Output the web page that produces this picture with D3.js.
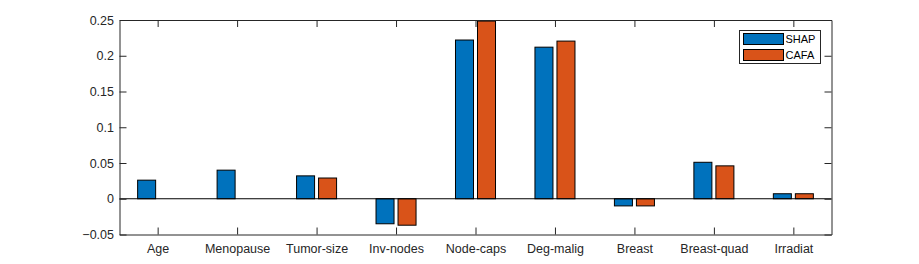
<!DOCTYPE html>
<html><head><meta charset="utf-8">
<script src="https://cdn.jsdelivr.net/npm/d3@7"></script>
<style>body{margin:0;background:#fff;}svg{display:block;font-family:"Liberation Sans",Arial,sans-serif;}</style>
</head><body><svg id="c" width="919" height="264"></svg>
<script>
const categories = ["Age","Menopause","Tumor-size","Inv-nodes","Node-caps","Deg-malig","Breast","Breast-quad","Irradiat"];
const seriesNames = ["SHAP","CAFA"];
const shapValues = [0.026, 0.040, 0.032, -0.035, 0.222, 0.212, -0.010, 0.051, 0.007];
const cafaValues = [0.000, 0.000, 0.029, -0.037, 0.2485, 0.2205, -0.010, 0.046, 0.007];
const yTicks = [-0.05, 0, 0.05, 0.1, 0.15, 0.2, 0.25];
const colors = ["#0072BD", "#D95319"];

const svg = d3.select("#c");
const L = 119.5, R = 831.5, T = 20, B = 234.5;
const ink = "#262626";
const x = d3.scaleLinear().domain([0.52, 9.48]).range([L, R]);
const y = d3.scaleLinear().domain([-0.05, 0.25]).range([B, T]);
const unit = x(2) - x(1);
const barW = 0.2266 * unit, off = 0.1385 * unit;

const series = [shapValues, cafaValues];
series.forEach((vals, si) => {
  svg.append("g").selectAll("rect").data(vals).join("rect")
    .attr("x", (d, i) => x(i + 1) + (si === 0 ? -off : off) - barW / 2)
    .attr("width", barW)
    .attr("y", d => y(Math.max(0, d)))
    .attr("height", d => Math.abs(y(d) - y(0)))
    .attr("fill", colors[si])
    .attr("stroke", "#000").attr("stroke-width", 1);
});
// baseline
svg.append("line").attr("x1", L).attr("x2", R).attr("y1", y(0)).attr("y2", y(0))
  .attr("stroke", "#000").attr("stroke-width", 1);

// axes
const xAxisB = d3.axisBottom(x).tickValues(d3.range(1, 10)).tickFormat(i => categories[i - 1]).tickSizeInner(-7).tickSizeOuter(0).tickPadding(10);
const xAxisT = d3.axisTop(x).tickValues(d3.range(1, 10)).tickFormat("").tickSizeInner(-7).tickSizeOuter(0);
const yAxisL = d3.axisLeft(y).tickValues(yTicks).tickFormat(d => d3.format("~g")(d)).tickSizeInner(-7).tickSizeOuter(0).tickPadding(5.5);
const yAxisR = d3.axisRight(y).tickValues(yTicks).tickFormat("").tickSizeInner(-7).tickSizeOuter(0);

function style(g) {
  g.selectAll("path").attr("stroke", ink);
  g.selectAll("line").attr("stroke", ink);
  g.selectAll("text").attr("fill", ink).style("font-size", "12.5px").style("font-family", '"Liberation Sans", Arial, sans-serif');
}
svg.append("g").attr("transform", `translate(0,${B})`).call(xAxisB).call(style);
svg.append("g").attr("transform", `translate(0,${T})`).call(xAxisT).call(style);
svg.append("g").attr("transform", `translate(${L},0)`).call(yAxisL).call(style);
svg.append("g").attr("transform", `translate(${R},0)`).call(yAxisR).call(style);

// legend
const lg = svg.append("g");
lg.append("rect").attr("x", 739.5).attr("y", 30.5).attr("width", 81).attr("height", 33)
  .attr("fill", "#fff").attr("stroke", ink).attr("stroke-width", 1);
seriesNames.forEach((n, i) => {
  const yy = 33.5 + i * 16;
  lg.append("rect").attr("x", 743.5).attr("y", yy).attr("width", 40).attr("height", 11)
    .attr("fill", colors[i]).attr("stroke", "#000").attr("stroke-width", 1);
  lg.append("text").attr("x", 785.5).attr("y", yy + 9.5).text(n)
    .attr("fill", "#000").style("font-size", "11px");
});
</script></body></html>
